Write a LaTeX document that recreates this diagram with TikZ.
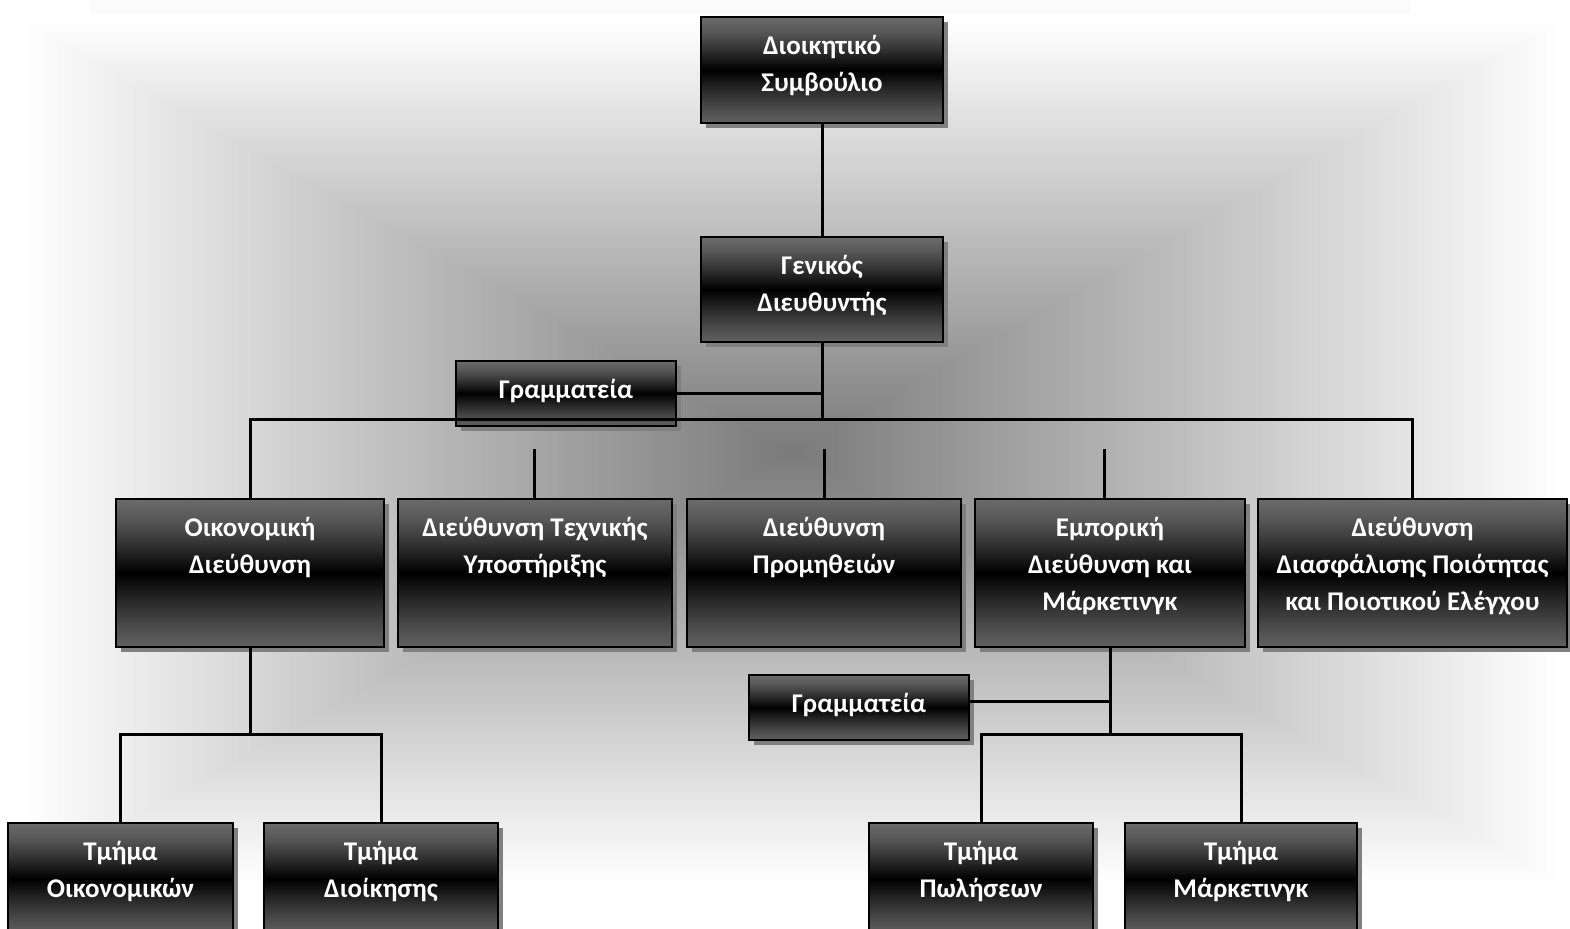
\documentclass[tikz,border=0pt]{standalone}
\usepackage{fontspec}
\setmainfont{Carlito}
\usetikzlibrary{fit,calc,shadows}

\definecolor{shadowgray}{gray}{0.50}
\definecolor{gTop}{gray}{0.42}
\definecolor{gT1}{gray}{0.34}
\definecolor{gT2}{gray}{0.20}
\definecolor{gB2}{gray}{0.17}
\definecolor{gB1}{gray}{0.31}
\definecolor{gBot}{gray}{0.38}

% dark glossy fill of the boxes: grey at top and bottom, black band in the middle
\pgfdeclareverticalshading{orgfill}{100bp}{%
  color(0bp)=(gBot); color(25bp)=(gBot); color(31bp)=(gB1); color(40bp)=(gB2);
  color(50bp)=(black); color(60bp)=(gT2); color(68bp)=(gT1); color(75bp)=(gTop);
  color(100bp)=(gTop)}

% rectangular "from centre" backdrop: grey in the middle, white at the edges
\pgfdeclarefunctionalshading{bgrect}{\pgfpointorigin}{\pgfpoint{100bp}{100bp}}{}{%
  50 sub abs exch 50 sub abs 2 copy lt {exch} if pop
  25 div dup 1 gt {pop 1} if 0.52 mul 0.48 add dup dup}

\newcommand\orgbox[6]{%
  \node[orgbox, fit={(#2,#3)(#4,#5)}] (#1) {};
  \node[orgtext] (#1-t) at (#1.north)
    {\parbox[t]{180pt}{\centering\rule{0pt}{19pt}#6}};
}

\begin{document}
\begin{tikzpicture}[x=0.5pt, y=-0.5pt,
  orgbox/.style={draw=black, line width=1.25pt, inner sep=0pt, shade, shading=orgfill,
    drop shadow={shadow xshift=2.5pt, shadow yshift=-2.5pt, fill=shadowgray, opacity=1}},
  orgtext/.style={inner sep=0pt, anchor=north, text=white,
    font=\bfseries\fontsize{13.5pt}{18.5pt}\selectfont},
  conn/.style={draw=black, line width=1.5pt, line join=miter}]

\useasboundingbox (0,0) rectangle (1570,929);
\clip (0,0) rectangle (1570,929);
\fill[white] (0,0) rectangle (1570,929);
\fill[black!1.5] (90,0) rectangle (1410,14);
\shade[shading=bgrect] (20,20) rectangle (1560,882);

% boxes
\orgbox{ds}{701}{17}{943}{123}{Διοικητικό\\Συμβούλιο}
\orgbox{gd}{701}{237}{943}{342}{Γενικός\\Διευθυντής}
\orgbox{sec1}{456}{361}{676}{426}{Γραμματεία}
\orgbox{oik}{116}{499}{384}{647}{Οικονομική\\Διεύθυνση}
\orgbox{tech}{398}{499}{672}{647}{Διεύθυνση Τεχνικής\\Υποστήριξης}
\orgbox{prom}{687}{499}{961}{647}{Διεύθυνση\\Προμηθειών}
\orgbox{emp}{975}{499}{1245}{647}{Εμπορική\\Διεύθυνση και\\Μάρκετινγκ}
\orgbox{qa}{1258}{499}{1567}{647}{Διεύθυνση\\Διασφάλισης Ποιότητας\\και Ποιοτικού Ελέγχου}
\orgbox{sec2}{749}{675}{969}{740}{Γραμματεία}
\orgbox{to}{8}{823}{233}{935}{Τμήμα\\Οικονομικών}
\orgbox{td}{264}{823}{498}{935}{Τμήμα\\Διοίκησης}
\orgbox{tp}{869}{823}{1093}{935}{Τμήμα\\Πωλήσεων}
\orgbox{tm}{1125}{823}{1357}{935}{Τμήμα\\Μάρκετινγκ}

% connector levels and free ends
\coordinate (busY) at (0,420);
\coordinate (lowY) at (0,735);
\coordinate (sec2Y) at (0,702);
\coordinate (stubT) at (534,449);
\coordinate (stubP) at (824,449);
\coordinate (stubE) at (1104,449);

% connectors
\draw[conn] (ds) -- (gd);
\draw[conn] (gd.south) -- (gd.south |- busY);
\draw[conn] (oik.north) -- (oik.north |- busY) -- (qa.north |- busY) -- (qa.north);
\draw[conn] (sec1.east) -- (sec1.east -| gd.south);
\draw[conn] (stubT) -- (stubT |- tech.north);
\draw[conn] (stubP) -- (stubP |- prom.north);
\draw[conn] (stubE) -- (stubE |- emp.north);
\draw[conn] (oik.south) -- (oik.south |- lowY);
\draw[conn] (to.north) -- (to.north |- lowY) -- (td.north |- lowY) -- (td.north);
\draw[conn] (emp.south) -- (emp.south |- lowY);
\draw[conn] (sec2.east |- sec2Y) -- (emp.south |- sec2Y);
\draw[conn] (tp.north) -- (tp.north |- lowY) -- (tm.north |- lowY) -- (tm.north);
\end{tikzpicture}
\end{document}
